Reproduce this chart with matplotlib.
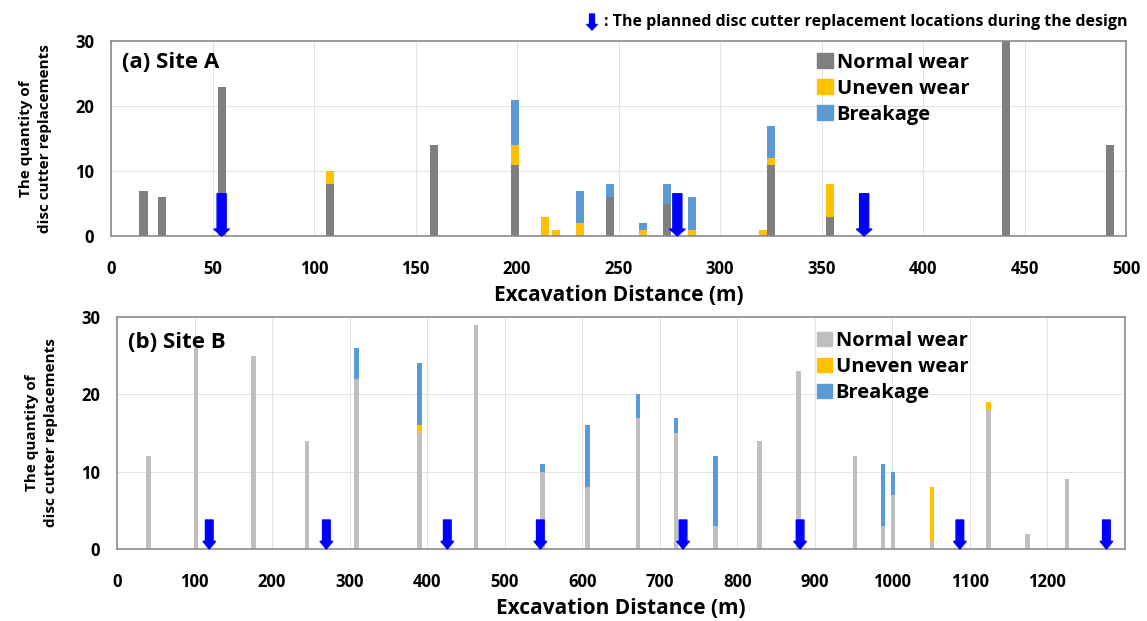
import numpy as np
import matplotlib
matplotlib.use('Agg')
import matplotlib.pyplot as plt
from matplotlib.patches import Patch

plt.rcParams['font.family'] = ['Open Sans', 'DejaVu Sans']
plt.rcParams['font.weight'] = 'bold'

# Site A: replacement positions (m) and counts by cause
pos_a = [16, 25, 54.5, 108, 159, 199, 214, 219, 231, 246, 262, 274, 286, 321, 325, 354, 441, 492]
normal_a = [7, 6, 23, 8, 14, 11, 0, 0, 0, 6, 0, 5, 0, 0, 11, 3, 30, 14]
uneven_a = [0, 0, 0, 2, 0, 3, 3, 1, 2, 0, 1, 0, 1, 1, 1, 5, 0, 0]
break_a = [0, 0, 0, 0, 0, 7, 0, 0, 5, 2, 1, 3, 5, 0, 5, 0, 0, 0]
plan_a = [54.5, 279, 371]

# Site B
pos_b = [41, 102, 176, 245, 309, 390, 463, 549, 607, 672, 721, 772, 829, 879,
         952, 988, 1001, 1051, 1124, 1174, 1225]
normal_b = [12, 26, 25, 14, 22, 15, 29, 10, 8, 17, 15, 3, 14, 23, 12, 3, 7, 1, 18, 2, 9]
uneven_b = [0, 0, 0, 0, 0, 1, 0, 0, 0, 0, 0, 0, 0, 0, 0, 0, 0, 7, 1, 0, 0]
break_b = [0, 0, 0, 0, 4, 8, 0, 1, 8, 3, 2, 9, 0, 0, 0, 8, 3, 0, 0, 0, 0]
plan_b = [119, 270, 426, 546, 730, 881, 1087, 1276]

YELLOW = '#FFC000'
BLUE = '#5B9BD5'
ARROW = '#0000FF'

W, H = 1147, 621
fig = plt.figure(figsize=(W / 100, H / 100), dpi=100)


def box(l, t, r, b):
    return [l / W, 1 - b / H, (r - l) / W, (b - t) / H]


def panel(ax, pos, normal, uneven, brk, plan, gray, width, xmax, xstep, arrow_h, head, title):
    normal = np.array(normal)
    uneven = np.array(uneven)
    brk = np.array(brk)
    ax.bar(pos, normal, width, color=gray, zorder=2)
    ax.bar(pos, uneven, width, bottom=normal, color=YELLOW, zorder=2)
    ax.bar(pos, brk, width, bottom=normal + uneven, color=BLUE, zorder=2)
    for x in plan:
        ax.annotate('', xy=(x, 0), xytext=(x, arrow_h), zorder=5,
                    arrowprops=dict(facecolor=ARROW, edgecolor=ARROW, width=head[0],
                                    headwidth=head[1], headlength=head[2], shrink=0))
    ax.set_xlim(0, xmax)
    ax.set_ylim(0, 30)
    ticks = np.arange(0, xmax + 1, xstep)
    ax.set_xticks(ticks[ticks < xmax] if xmax % 500 else ticks)
    ax.set_yticks([0, 10, 20, 30])
    ax.grid(True, color='#E3E3E3', lw=0.7, zorder=0)
    ax.set_axisbelow(True)
    for s in ax.spines.values():
        s.set_color('#8C8C8C')
        s.set_linewidth(1.2)
    ax.tick_params(length=0, labelsize=12, pad=17)
    ax.tick_params(axis='y', pad=12)
    ax.set_xlabel('Excavation Distance (m)', fontsize=15, fontweight='bold', labelpad=5)
    ax.set_ylabel('The quantity of\ndisc cutter replacements', fontsize=11,
                  fontweight='bold', labelpad=17, linespacing=1.45)
    ax.text(0.011, 0.89, title, transform=ax.transAxes, fontsize=16,
            fontweight='bold', va='center', ha='left')
    handles = [Patch(color=gray, label='Normal wear'),
               Patch(color=YELLOW, label='Uneven wear'),
               Patch(color=BLUE, label='Breakage')]
    return handles


ax1 = fig.add_axes(box(111, 41, 1126, 236))
h1 = panel(ax1, pos_a, normal_a, uneven_a, break_a, plan_a, '#7F7F7F', 4, 500, 50, 6.5,
           (6.5, 11, 5), '(a) Site A')
ax1.legend(handles=h1, loc='upper left', bbox_to_anchor=(0.696, 0.94), frameon=False,
           fontsize=14.5, handlelength=0.75, handleheight=0.75, handletextpad=0.2,
           labelspacing=0.3, borderpad=0, borderaxespad=0)

ax2 = fig.add_axes(box(117, 317, 1125, 549))
h2 = panel(ax2, pos_b, normal_b, uneven_b, break_b, plan_b, '#BFBFBF', 6, 1300, 100, 3.75,
           (5.5, 9, 5.5), '(b) Site B')
ax2.legend(handles=h2, loc='upper left', bbox_to_anchor=(0.694, 0.94), frameon=False,
           fontsize=14.5, handlelength=0.75, handleheight=0.75, handletextpad=0.2,
           labelspacing=0.3, borderpad=0, borderaxespad=0)

# header note with the planned-location marker
ax1.annotate('', xy=(592, H - 30), xytext=(592, H - 14), xycoords='figure pixels',
             textcoords='figure pixels',
             arrowprops=dict(facecolor=ARROW, edgecolor=ARROW, width=3.5,
                             headwidth=7.5, headlength=4, shrink=0))
fig.text(1127 / W, 1 - 22 / H, ': The planned disc cutter replacement locations during the design',
         fontsize=11.5, fontweight='bold', ha='right', va='center')

fig.savefig('out.png', dpi=100)
